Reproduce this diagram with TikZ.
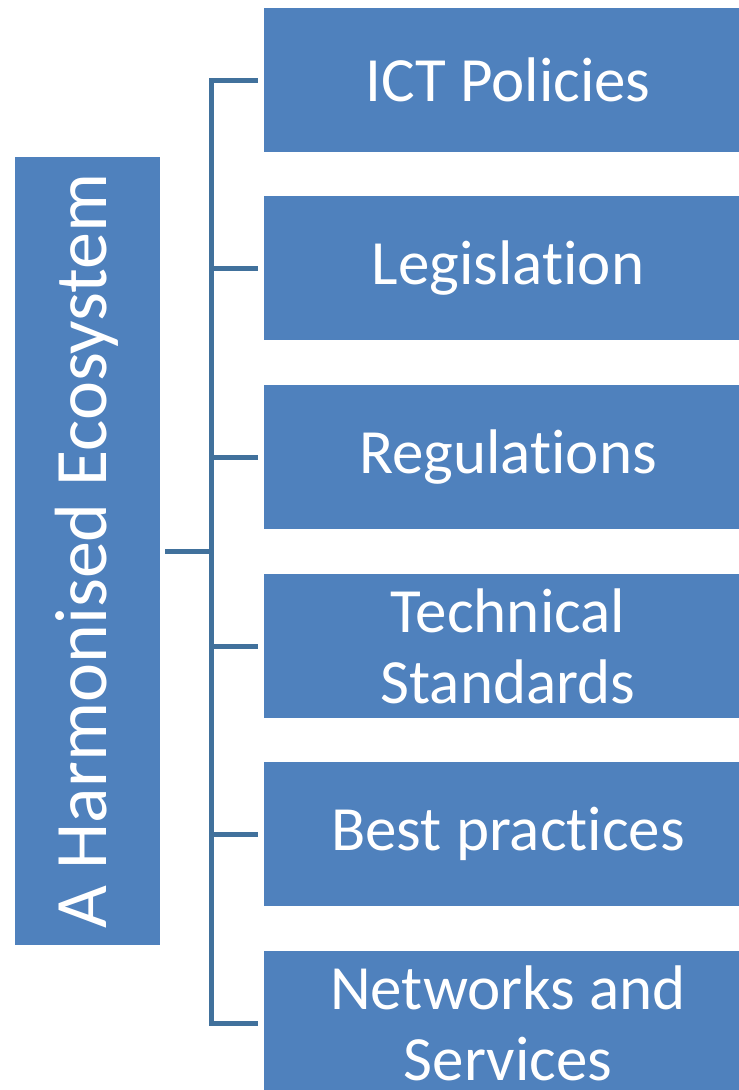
\documentclass[tikz,border=0pt]{standalone}
\usepackage{fontspec}
\setmainfont{Carlito}[Ligatures=NoCommon]
\usepackage{tikz}
\usetikzlibrary{positioning}

\definecolor{boxblue}{HTML}{4F81BD}
\definecolor{lineblue}{HTML}{41719C}

\begin{document}
\begin{tikzpicture}
		[
			x=1pt, y=-1pt,
			align=center,
			item/.style={rectangle, fill=boxblue, text=white, inner sep=0pt, outer sep=0pt,
				minimum width=488pt, minimum height=144pt,
				font=\fontsize{63}{71}\selectfont},
			root/.style={rectangle, fill=boxblue, text=white, inner sep=0pt, outer sep=0pt,
				minimum width=145pt, minimum height=788pt},
			link/.style={draw=lineblue, line width=5pt}
		]

		% page
		\useasboundingbox (0,0) rectangle (739,1090);
		\clip (0,0) rectangle (739,1090);

		% root box
		\node[root] (eco) at ( 87.5, 551 ) {};
		\node[rotate=90, text=white, font=\fontsize{74}{80}\selectfont] (ecotext) at ( 87, 551 ) {A Harmonised Ecosystem};

		% item boxes
		\node[item] (ict)  at ( 508,   80 ) {ICT Policies};
		\node[item] (leg)  at ( 508,  268 ) {Legislation};
		\node[item] (reg)  at ( 508,  457 ) {Regulations};
		\node[item] (tech) at ( 508,  646 ) {Technical\\Standards};
		\node[item] (best) at ( 508,  834 ) {Best practices};
		\node[item] (net)  at ( 508, 1023 ) {Networks and\\Services};

		% junctions on the spine
		\coordinate (jr) at ( 211,  551 );
		\coordinate (j1) at ( 211,   80 );
		\coordinate (j6) at ( 211, 1023 );

		% spine and root link
		\draw[link, line cap=rect] (j1) -- (j6);
		\draw[link, shorten <=5pt] (eco.east) -- (jr);

		% item links
		\foreach \to in {ict,leg,reg,tech,best,net}
		\draw[link, shorten >=6pt] (\to.west -| jr) -- (\to.west);

	\end{tikzpicture}
\end{document}
